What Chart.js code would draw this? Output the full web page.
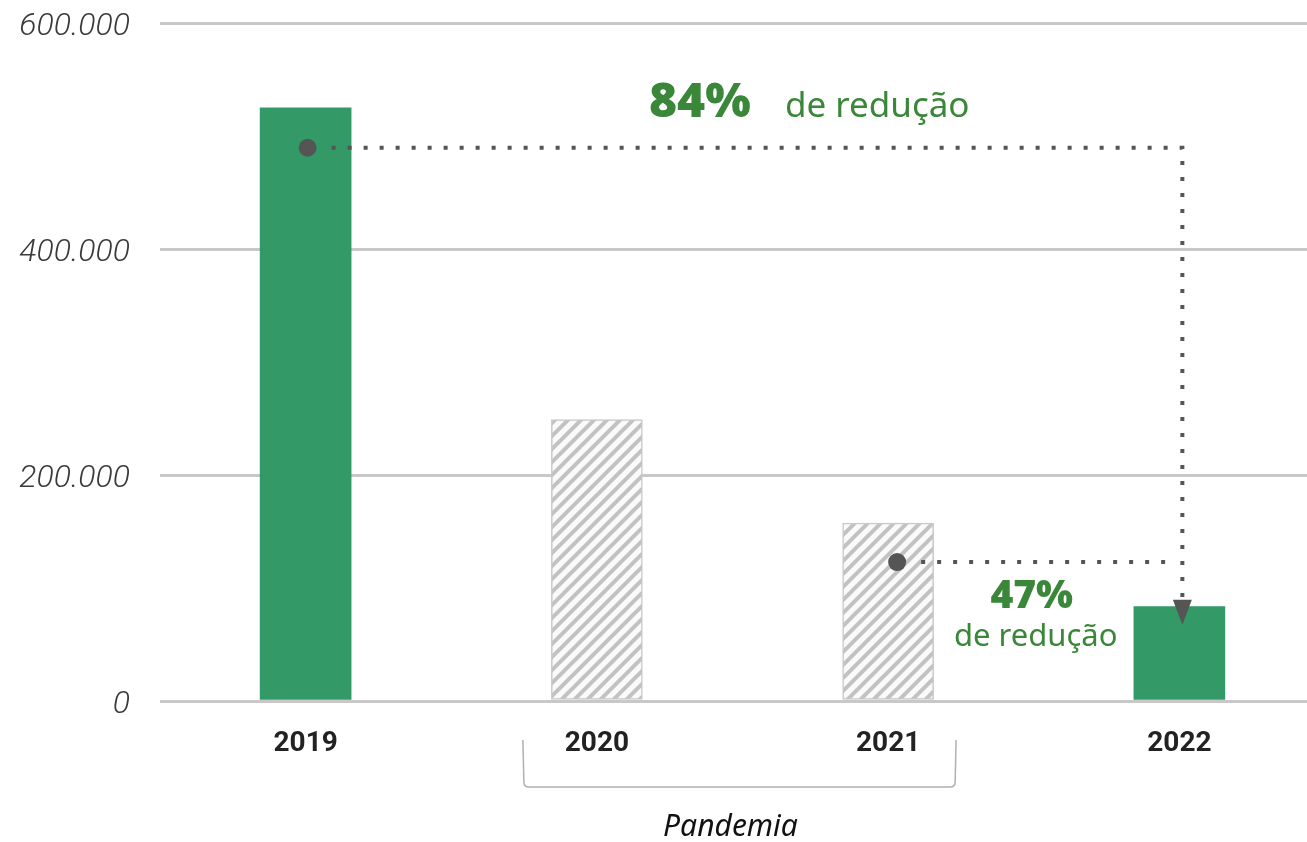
<!DOCTYPE html>
<html>
<head>
<meta charset="utf-8">
<script src="https://cdn.jsdelivr.net/npm/chart.js@4"></script>
<style>
html,body{margin:0;padding:0;background:#fff;overflow:hidden;}
#wrap{width:1340px;height:842px;position:relative;}
</style>
</head>
<body>
<div id="wrap"><canvas id="c"></canvas></div>
<script>
// ---- data ----
const years = ['2019', '2020', '2021', '2022'];
const values = [525000, 249000, 157500, 83500];
const hatched = [false, true, true, false];
const yTicks = [0, 200000, 400000, 600000];
const yTickLabels = ['0', '200.000', '400.000', '600.000'];
const note1 = ['84%', 'de redução'];
const note2 = ['47%', 'de redução'];
const bracketLabel = 'Pandemia';

// ---- styles ----
const GREEN_BAR = '#339966';
const GREEN_TEXT = '#3a873a';
const DARK = '#555555';

function hatchPattern() {
  const s = 13;
  const c = document.createElement('canvas');
  c.width = s; c.height = s;
  const g = c.getContext('2d');
  g.fillStyle = '#fafafa';
  g.fillRect(0, 0, s, s);
  g.strokeStyle = '#c2c2c2';
  g.lineWidth = 4;
  g.beginPath();
  g.moveTo(-2, s + 2); g.lineTo(s + 2, -2);
  g.moveTo(-s / 2 - 2, s / 2 + 2); g.lineTo(s / 2 + 2, -s / 2 - 2);
  g.moveTo(s / 2 - 2, s * 1.5 + 2); g.lineTo(s * 1.5 + 2, s / 2 - 2);
  g.stroke();
  return g.createPattern(c, 'repeat');
}
const pat = hatchPattern();

const annot = {
  id: 'annot',
  afterDatasetsDraw(chart) {
    const {ctx, scales: {x, y}} = chart;
    const px = i => x.getPixelForValue(i);
    const p1 = {x: px(0) + 2, y: y.getPixelForValue(values[0]) + 40};
    const p2 = {x: px(2) + 9, y: y.getPixelForValue(values[2]) + 39};
    const vx = px(3) + 3;
    const tipY = y.getPixelForValue(values[3]) + 18;
    ctx.save();
    ctx.strokeStyle = DARK;
    ctx.lineWidth = 4;
    ctx.setLineDash([4, 12]);
    ctx.beginPath();
    ctx.moveTo(p1.x + 24, p1.y);
    ctx.lineTo(vx, p1.y);
    ctx.lineTo(vx, tipY - 26);
    ctx.stroke();
    ctx.beginPath();
    ctx.moveTo(p2.x + 24, p2.y);
    ctx.lineTo(vx - 8, p2.y);
    ctx.stroke();
    ctx.setLineDash([]);
    ctx.fillStyle = DARK;
    ctx.beginPath();
    ctx.moveTo(vx - 9.5, tipY - 25);
    ctx.lineTo(vx + 9.5, tipY - 25);
    ctx.lineTo(vx, tipY);
    ctx.closePath();
    ctx.fill();
    [p1, p2].forEach(p => {
      ctx.beginPath();
      ctx.arc(p.x, p.y, 9, 0, Math.PI * 2);
      ctx.fill();
    });
    ctx.restore();
  },
  afterDraw(chart) {
    const {ctx, scales: {x, y}} = chart;
    const px = i => x.getPixelForValue(i);
    ctx.save();
    ctx.fillStyle = GREEN_TEXT;
    ctx.textBaseline = 'alphabetic';
    // note 1
    const n1y = y.getPixelForValue(values[0]) + 8;
    ctx.textAlign = 'left';
    ctx.font = '800 48px "Open Sans"';
    ctx.fillText(note1[0], px(1) + 52, n1y + 1);
    ctx.font = '400 35px "Noto Sans"';
    ctx.fillText(note1[1], px(1) + 188, n1y + 1);
    // note 2
    const cx2 = (px(2) + px(3)) / 2;
    const n2y = y.getPixelForValue(values[3]) + 1;
    ctx.textAlign = 'center';
    ctx.font = '800 39px "Open Sans"';
    ctx.fillText(note2[0], cx2 - 2, n2y);
    ctx.font = '400 31px "Noto Sans"';
    ctx.fillText(note2[1], cx2 + 2, n2y + 38);
    // bracket
    const bl = px(1) - 74, br = px(2) + 68;
    const bt = chart.chartArea.bottom + 39, bb = chart.chartArea.bottom + 86;
    const r = 5;
    ctx.strokeStyle = '#b0b0b0';
    ctx.lineWidth = 1.5;
    ctx.beginPath();
    ctx.moveTo(bl, bt);
    ctx.lineTo(bl + 1, bb - r);
    ctx.quadraticCurveTo(bl + 1, bb, bl + 1 + r, bb);
    ctx.lineTo(br - 1 - r, bb);
    ctx.quadraticCurveTo(br - 1, bb, br - 1, bb - r);
    ctx.lineTo(br, bt);
    ctx.stroke();
    ctx.fillStyle = '#111';
    ctx.font = 'italic 400 30px "Noto Sans"';
    ctx.textAlign = 'center';
    ctx.fillText(bracketLabel, (bl + br) / 2 - 9, bb + 49);
    ctx.restore();
  }
};

new Chart(document.getElementById('c'), {
  type: 'bar',
  data: {
    labels: years,
    datasets: [{
      data: values,
      backgroundColor: hatched.map(h => h ? pat : GREEN_BAR),
      borderColor: hatched.map(h => h ? '#c8c8c8' : GREEN_BAR),
      borderWidth: hatched.map(h => h ? 1.5 : 0),
      barThickness: 91,
      borderSkipped: false
    }]
  },
  options: {
    responsive: true,
    maintainAspectRatio: false,
    animation: false,
    events: [],
    layout: {padding: {top: 23, right: 15, left: 0, bottom: 0}},
    plugins: {legend: {display: false}, tooltip: {enabled: false}},
    scales: {
      x: {
        grid: {display: false, drawTicks: false},
        border: {display: false},
        ticks: {
          padding: 26,
          color: '#222',
          font: {family: 'Roboto', weight: 'bold', size: 28}
        },
        afterFit(s) { s.height = 141; }
      },
      y: {
        min: 0,
        max: 600000,
        afterBuildTicks(s) { s.ticks = yTicks.map(v => ({value: v})); },
        grid: {color: '#c8c8c8', lineWidth: 3, drawTicks: false},
        border: {display: false},
        ticks: {
          padding: 30,
          labelOffset: 4,
          color: '#3a3a3a',
          font: {family: 'Roboto', style: 'italic', weight: '300', size: 32},
          callback: (v) => yTickLabels[yTicks.indexOf(v)]
        },
        afterFit(s) { s.width = 160; s.paddingTop = 0; s.paddingBottom = 0; }
      }
    }
  },
  plugins: [annot]
});
</script>
</body>
</html>
